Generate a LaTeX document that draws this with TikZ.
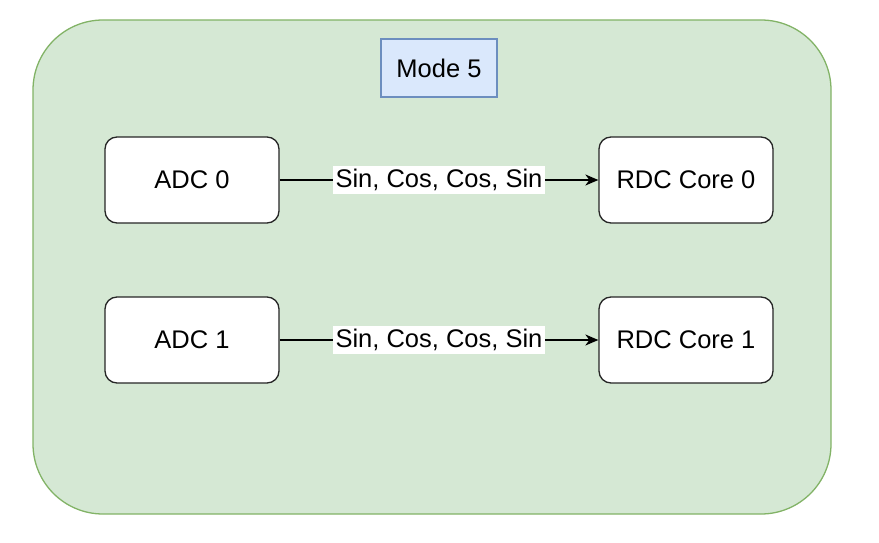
\documentclass[tikz,border=0pt]{standalone}
\usepackage{fontspec}
\setmainfont{Liberation Sans}
\usetikzlibrary{arrows.meta}

\definecolor{modeblue}{HTML}{DAE8FC}
\definecolor{modeline}{HTML}{6C8EBF}
\definecolor{groupgreen}{HTML}{D5E8D4}
\definecolor{groupline}{HTML}{82B366}
\tikzset{
  block/.style={draw=black!85,line width=1.3pt,fill=white,rounded corners=12pt,
    minimum width=174pt,minimum height=86pt,inner sep=0pt,
    font=\fontsize{25.5}{30}\selectfont},
  modebox/.style={draw=modeline,line width=1.3pt,fill=modeblue,
    minimum width=116pt,minimum height=58pt,inner sep=0pt,
    font=\fontsize{25.5}{30}\selectfont},
  link/.style={line width=1.3pt,-{Stealth[length=13pt,width=11pt,inset=4pt]}},
  linklabel/.style={fill=white,inner xsep=3pt,inner ysep=3pt,
    font=\fontsize{25.5}{30}\selectfont}
}

\begin{document}
\begin{tikzpicture}[x=1pt,y=-1pt]
\useasboundingbox (0,0) rectangle (879,543);
\draw[groupline,fill=groupgreen,line width=1.3pt,rounded corners=70pt] (33,20) rectangle (831,514);
\node[modebox] (mode) at (439,68) {Mode 5};
\node[block] (adc0) at (192,180) {ADC 0};
\node[block] (rdc0) at (686,180) {RDC Core 0};
\node[block] (adc1) at (192,340) {ADC 1};
\node[block] (rdc1) at (686,340) {RDC Core 1};
\draw[link] (adc0) -- node[linklabel] {Sin, Cos, Cos, Sin} (rdc0);
\draw[link] (adc1) -- node[linklabel] {Sin, Cos, Cos, Sin} (rdc1);
\end{tikzpicture}
\end{document}
